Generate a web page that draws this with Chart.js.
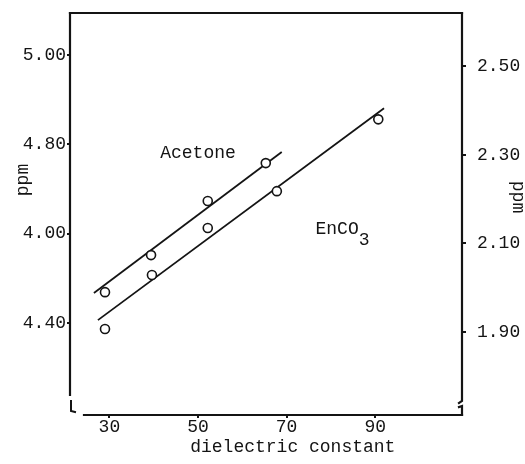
<!DOCTYPE html>
<html>
<head>
<meta charset="utf-8">
<script src="https://cdn.jsdelivr.net/npm/chart.js@4"></script>
<style>
html,body{margin:0;padding:0;background:#fff;}
#wrap{width:525px;height:464px;}
</style>
</head>
<body>
<div id="wrap"><canvas id="c" width="525" height="464"></canvas></div>
<script>
// ---- data ----
const acetoneX = [29.0, 39.4, 52.2, 65.3];
const acetoneY = [4.469, 4.552, 4.673, 4.758];           // left ppm axis
const encoX    = [29.0, 39.6, 52.2, 67.8, 90.7];
const encoY    = [1.907, 2.029, 2.135, 2.218, 2.380];    // right ppm axis
const acetoneFitX = [26.5, 68.9];
const acetoneFitY = [4.467, 4.783];
const encoFitX = [27.4, 92.0];
const encoFitY = [1.927, 2.405];

const xTicks = [30, 50, 70, 90];
const xTickLabels = ["30", "50", "70", "90"];
const leftTicks = [5.0, 4.8, 4.6, 4.4];
const leftTickLabels = ["5.00", "4.80", "4.00", "4.40"];
const rightTicks = [2.5, 2.3, 2.1, 1.9];
const rightTickLabels = ["2.50", "2.30", "2.10", "1.90"];

const FONT = "'Liberation Mono', 'DejaVu Sans Mono', monospace";
const INK = '#141414';

const pts = (xs, ys) => xs.map((x, i) => ({x: x, y: ys[i]}));
const fixTicks = (vals) => (scale) => { scale.ticks = vals.map(v => ({value: v})); };
const lab = (vals, labels) => (v) => { const i = vals.findIndex(t => Math.abs(t - v) < 1e-6); return i >= 0 ? labels[i] : ''; };

const framePlugin = {
  id: 'frame',
  afterDraw(chart) {
    const {ctx, chartArea: a, scales} = chart;
    ctx.save();
    ctx.strokeStyle = INK;
    ctx.lineWidth = 2.2;
    ctx.lineCap = 'square';
    // top
    ctx.beginPath(); ctx.moveTo(a.left, a.top); ctx.lineTo(a.right, a.top); ctx.stroke();
    // left axis (broken near bottom)
    ctx.beginPath(); ctx.moveTo(a.left, a.top); ctx.lineTo(a.left, a.bottom - 20); ctx.stroke();
    ctx.lineWidth = 2;
    ctx.beginPath(); ctx.moveTo(a.left + 1, a.bottom - 14); ctx.lineTo(a.left + 1, a.bottom - 4); ctx.lineTo(a.left + 5, a.bottom - 3); ctx.stroke();
    // bottom axis
    ctx.lineWidth = 2.2;
    ctx.beginPath(); ctx.moveTo(a.left + 14, a.bottom); ctx.lineTo(a.right, a.bottom); ctx.stroke();
    // right axis (broken near bottom)
    ctx.beginPath(); ctx.moveTo(a.right, a.top); ctx.lineTo(a.right, a.bottom - 14); ctx.lineTo(a.right - 3, a.bottom - 12); ctx.stroke();
    ctx.beginPath(); ctx.moveTo(a.right - 3, a.bottom - 8); ctx.lineTo(a.right, a.bottom - 9); ctx.lineTo(a.right, a.bottom); ctx.stroke();

    // text
    ctx.fillStyle = INK;
    ctx.font = '18px ' + FONT;
    const x = scales.x, yl = scales.y, yr = scales.y2;
    ctx.textAlign = 'center'; ctx.textBaseline = 'middle';
    ctx.fillText('Acetone', x.getPixelForValue(50.0), yl.getPixelForValue(4.78));
    const ex = x.getPixelForValue(81.4), ey = yr.getPixelForValue(2.131);
    ctx.fillText('EnCO', ex, ey);
    ctx.fillText('3', ex + 27, ey + 11);
    // x title
    ctx.fillText('dielectric constant', x.getPixelForValue(71.4), 447);
    // left title
    ctx.save(); ctx.translate(23, 180); ctx.rotate(-Math.PI / 2); ctx.fillText('ppm', 0, 0); ctx.restore();
    // right title
    ctx.save(); ctx.translate(518, 197); ctx.rotate(Math.PI / 2); ctx.fillText('ppm', 0, 0); ctx.restore();
    ctx.restore();
  }
};

const tickFont = {family: FONT, size: 18};
const fitV = (w) => (s) => { s.width = w; s.paddingTop = 0; s.paddingBottom = 0; };
const fitH = (h) => (s) => { s.height = h; s.paddingLeft = 0; s.paddingRight = 0; };

new Chart(document.getElementById('c'), {
  type: 'scatter',
  data: {
    datasets: [
      {label: 'Acetone fit', type: 'line', data: pts(acetoneFitX, acetoneFitY), yAxisID: 'y',
       borderColor: INK, borderWidth: 1.8, pointRadius: 0, fill: false, showLine: true, order: 2},
      {label: 'EnCO3 fit', type: 'line', data: pts(encoFitX, encoFitY), yAxisID: 'y2',
       borderColor: INK, borderWidth: 1.8, pointRadius: 0, fill: false, showLine: true, order: 2},
      {label: 'Acetone', data: pts(acetoneX, acetoneY), yAxisID: 'y',
       pointStyle: 'circle', pointRadius: 4.5, pointBackgroundColor: '#fff', pointBorderColor: INK, pointBorderWidth: 1.6, order: 1},
      {label: 'EnCO3', data: pts(encoX, encoY), yAxisID: 'y2',
       pointStyle: 'circle', pointRadius: 4.5, pointBackgroundColor: '#fff', pointBorderColor: INK, pointBorderWidth: 1.6, order: 1}
    ]
  },
  options: {
    responsive: false,
    animation: false,
    layout: {padding: {top: 13, left: 0, right: 0, bottom: 0}},
    plugins: {legend: {display: false}, tooltip: {enabled: false}},
    scales: {
      x: {
        type: 'linear', min: 21.1, max: 109.6,
        afterBuildTicks: fixTicks(xTicks),
        afterFit: fitH(49),
        grid: {drawOnChartArea: false, drawTicks: true, tickLength: 3, color: INK, lineWidth: 2},
        border: {display: false},
        ticks: {font: tickFont, color: INK, padding: -2, maxRotation: 0, callback: lab(xTicks, xTickLabels)}
      },
      y: {
        type: 'linear', position: 'left', min: 4.194, max: 5.094,
        afterBuildTicks: fixTicks(leftTicks),
        afterFit: fitV(70),
        grid: {drawOnChartArea: false, drawTicks: true, tickLength: 3, color: INK, lineWidth: 2},
        border: {display: false},
        ticks: {font: tickFont, color: INK, padding: 1, callback: lab(leftTicks, leftTickLabels)}
      },
      y2: {
        type: 'linear', position: 'right', min: 1.713, max: 2.620,
        afterBuildTicks: fixTicks(rightTicks),
        afterFit: fitV(63),
        grid: {drawOnChartArea: false, drawTicks: true, tickLength: 4, color: INK, lineWidth: 2},
        border: {display: false},
        ticks: {font: tickFont, color: INK, padding: 11, callback: lab(rightTicks, rightTickLabels)}
      }
    }
  },
  plugins: [framePlugin]
});
</script>
</body>
</html>
